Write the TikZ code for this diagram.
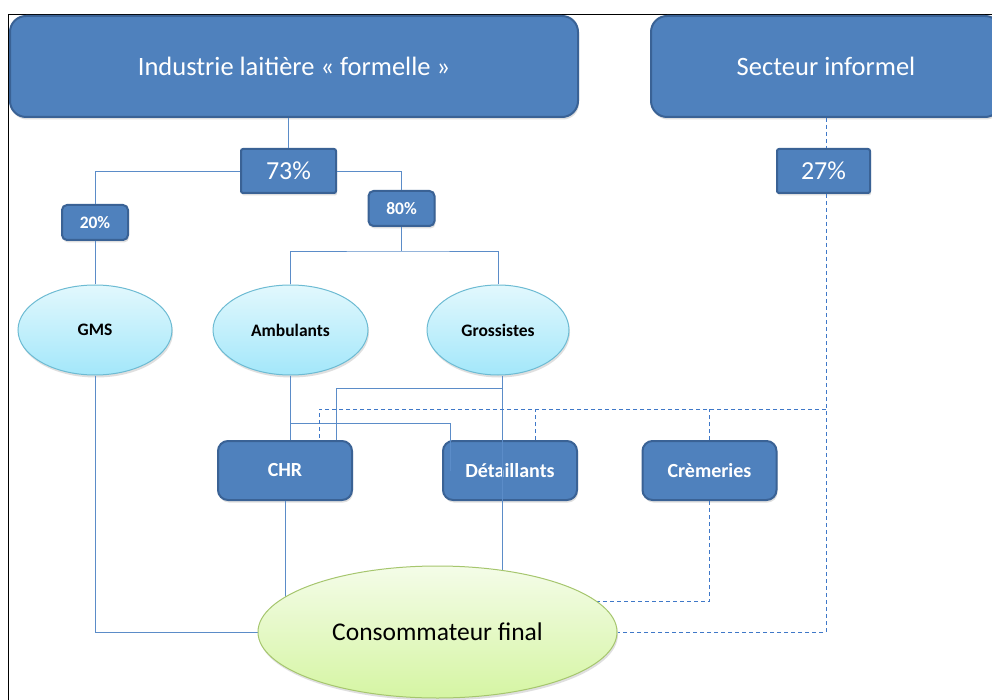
\documentclass[tikz,border=0pt]{standalone}
\usepackage{fontspec}
\setmainfont{Carlito}
\usetikzlibrary{shapes.geometric,shadows,calc}
\definecolor{boxblue}{HTML}{4F81BD}
\definecolor{boxedge}{HTML}{3A6295}
\definecolor{linkblue}{HTML}{5B8CC8}
\definecolor{dashblue}{HTML}{3F78C8}
\definecolor{cyantop}{HTML}{E2F8FD}
\definecolor{cyanbot}{HTML}{A3E7FA}
\definecolor{cyanedge}{HTML}{6DBBD3}
\definecolor{greentop}{HTML}{F4FCE8}
\definecolor{greenbot}{HTML}{D5F5A3}
\definecolor{greenedge}{HTML}{A6C66E}
\pgfdeclarelayer{front}
\pgfsetlayers{main,front}
\tikzset{
  shad/.style={drop shadow={shadow xshift=1pt, shadow yshift=-2.5pt, opacity=0.25}},
  bigbox/.style={draw=boxedge, line width=2pt, fill=boxblue, rounded corners=16pt,
    text=white, font=\fontsize{26.5}{30}\selectfont, inner sep=0pt, shad},
  pctbig/.style={draw=boxedge, line width=2pt, fill=boxblue, rounded corners=2pt,
    text=white, font=\fontsize{26}{30}\selectfont, inner sep=0pt,
    minimum height=44pt, shad},
  pctsmall/.style={draw=boxedge, line width=2pt, fill=boxblue, rounded corners=5pt,
    text=white, font=\bfseries\fontsize{17.5}{20}\selectfont, inner sep=0pt,
    minimum width=66pt, minimum height=35pt, shad},
  destbox/.style={draw=boxedge, line width=2pt, fill=boxblue, rounded corners=10pt,
    text=white, font=\bfseries\fontsize{20}{24}\selectfont, inner sep=0pt,
    minimum width=134pt, minimum height=59pt, shad},
  oval/.style={ellipse, draw=cyanedge, line width=1pt, top color=cyantop, bottom color=cyanbot,
    font=\bfseries\fontsize{17.5}{20}\selectfont, inner sep=0pt, minimum height=90pt, shad},
  conn/.style={draw=linkblue, line width=0.9pt},
  dconn/.style={draw=dashblue, line width=1pt, dash pattern=on 4pt off 3pt},
}
\begin{document}
\begin{tikzpicture}[x=1pt,y=-1pt]
\useasboundingbox (0,0) rectangle (992,700);
\fill[white] (0,0) rectangle (992,700);
\draw[black, line width=0.8pt] (8,700) -- (8,14) -- (992,14);

% consumer ellipse on the front layer
\begin{pgfonlayer}{front}
\node[ellipse, draw=greenedge, line width=1pt, top color=greentop, bottom color=greenbot,
  inner sep=0pt, minimum width=359pt, minimum height=132pt, shad,
  font=\fontsize{25.5}{30}\selectfont] (conso) at (437.5,632) {Consommateur final};
\end{pgfonlayer}

\node[bigbox, minimum width=568pt, minimum height=101pt] (main) at (294,66.5) {Industrie laitière « formelle »};
\node[bigbox, minimum width=350pt, minimum height=101pt] (inf) at (826,66.5) {Secteur informel};

\node[pctbig, minimum width=95pt] (p73) at (288.5,171) {73\%};
\node[pctbig, minimum width=93pt] (p27) at (823.5,171) {27\%};
\node[pctsmall] (p20) at (95,222.5) {20\%};
\node[pctsmall] (p80) at (401.5,208.5) {80\%};

\node[oval, minimum width=154pt] (gms) at (95,330) {GMS};
\node[oval, minimum width=155pt] (amb) at (290.5,330) {Ambulants};
\node[oval, minimum width=142pt] (gro) at (498,330) {Grossistes};

\node[destbox] (chr) at (285,470.5) {CHR};
\node[destbox] (det) at (510,470.5) {Détaillants};
\node[destbox] (crem) at (709.5,470.5) {Crèmeries};

% solid connectors (formal sector)
\draw[conn] (p73.north |- main.south) -- (p73.north);
\draw[conn] (p73.west) -| (p20.north);
\draw[conn] (p73.east) -| (p80.north);
\draw[conn] (p20.south) -- (gms.north);
\coordinate (j80) at ($(p80.south)+(0,24)$);
\draw[conn] (p80.south) -- (j80);
\draw[conn] (amb.north) |- (j80) -| (gro.north);
\draw[conn] (gms.south) |- (conso.west);
\draw[conn] (amb.south) -- (amb.south |- chr.north);
\coordinate (ja) at ($(amb.south)+(0,47.5)$);
\draw[conn] (ja) -| ($(det.west)+(8,0)$);
\coordinate (gs) at ($(gro.south)+(4,0)$);
\draw[conn] (gs) -- (gs |- conso.center);
\coordinate (jg) at ($(gs)+(0,13)$);
\draw[conn] (jg) -| ($(chr.north east)+(-17,0)$);
\draw[conn] (chr.south) -- (chr.south |- conso.center);

% dashed connectors (informal sector)
\draw[dconn] (inf.south) -- (inf.south |- p27.north);
\draw[dconn] (inf.south |- p27.south) |- (conso.east);
\coordinate (jd) at ($(inf.south |- p27.south)+(0,215)$);
\draw[dconn] (jd) -| ($(chr.north east)+(-34,0)$);
\coordinate (jdt) at ($(det.north)+(25,0)$);
\draw[dconn] (jdt) -- (jdt |- jd);
\draw[dconn] (crem.north) -- (crem.north |- jd);
\coordinate (jc) at ($(crem.south)+(0,100)$);
\draw[dconn] (crem.south) -- (jc) -- (jc -| conso.center);
\end{tikzpicture}
\end{document}
